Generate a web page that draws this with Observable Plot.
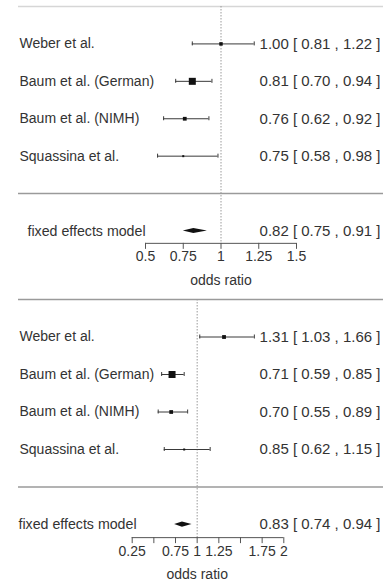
<!DOCTYPE html>
<html>
<head>
<meta charset="utf-8">
<script src="https://cdn.jsdelivr.net/npm/d3@7"></script>
<script src="https://cdn.jsdelivr.net/npm/@observablehq/plot@0.6"></script>
<style>
  html, body { margin: 0; padding: 0; background: #fff; }
  #chart svg { display: block; }
</style>
</head>
<body>
<div id="chart"></div>
<script>
// ---- data ----
const studies = ["Weber et al.", "Baum et al. (German)", "Baum et al. (NIMH)", "Squassina et al."];

const est1 = [1.00, 0.81, 0.76, 0.75];
const lb1  = [0.81, 0.70, 0.62, 0.58];
const ub1  = [1.22, 0.94, 0.92, 0.98];

const est2 = [1.31, 0.71, 0.70, 0.85];
const lb2  = [1.03, 0.59, 0.55, 0.62];
const ub2  = [1.66, 0.85, 0.89, 1.15];

const fixedLabel = "fixed effects model";
const fixedEst = [0.82, 0.83];
const fixedLb  = [0.75, 0.74];
const fixedUb  = [0.91, 0.94];

const ticks1 = [0.5, 0.75, 1, 1.25, 1.5];
const tickLabels1 = ["0.5", "0.75", "1", "1.25", "1.5"];
const ticks2 = [0.25, 0.5, 0.75, 1, 1.25, 1.5, 1.75, 2];
const tickLabels2 = ["0.25", "", "0.75", "1", "1.25", "", "1.75", "2"];
const xLabel = "odds ratio";

// ---- drawing ----
const FONT = "Liberation Sans, Arial, Helvetica, sans-serif";
const fmt = d3.format(".2f");

function panel(p) {
  const k = studies.length;
  const data = studies.map((name, i) => {
    const se = (Math.log(p.ub[i]) - Math.log(p.lb[i])) / 3.92;
    return {name, row: k - i, est: p.est[i], lb: p.lb[i], ub: p.ub[i], w: 1 / (se * se)};
  });
  const wMin = d3.min(data, d => d.w), wMax = d3.max(data, d => d.w);
  data.forEach(d => {
    const side = 2 + 5 * (d.w - wMin) / (wMax - wMin);
    d.r = side / Math.sqrt(Math.PI);
  });
  const fRow = -1;
  const fixed = {est: p.fEst, lb: p.fLb, ub: p.fUb, row: fRow};
  const h = 0.07;
  const diamond = [
    {x: fixed.lb, y1: fRow, y2: fRow},
    {x: fixed.est, y1: fRow - h, y2: fRow + h},
    {x: fixed.ub, y1: fRow, y2: fRow}
  ];
  const annot = [...data, fixed].map(d => ({row: d.row, text: `${fmt(d.est)} [ ${fmt(d.lb)} , ${fmt(d.ub)} ]`}));
  const ends = data.flatMap(d => [{x: d.lb, row: d.row}, {x: d.ub, row: d.row}]);
  const ax = p.axisRow;
  const tickData = p.ticks.map((t, i) => ({x: t, label: p.tickLabels[i]}));

  return Plot.plot({
    width: 383,
    height: p.height,
    marginLeft: 18, marginRight: 0, marginTop: 0, marginBottom: 0,
    style: {fontFamily: FONT, fontSize: "14px", background: "#fff", color: "#333"},
    x: {type: "linear", domain: p.xDomain, range: p.xRange, axis: null},
    y: {type: "linear", domain: [k + 1, -1], range: p.yRange, axis: null},
    r: {type: "identity"},
    marks: [
      Plot.ruleY([k + 1], {stroke: p.topColor, strokeWidth: 1.5}),
      Plot.ruleY([0], {stroke: "#9a9a9a", strokeWidth: 1.5}),
      Plot.ruleX([1], {y1: k + 1, y2: ax, stroke: "#9a9a9a", strokeWidth: 1, strokeDasharray: "1.5,1.5"}),
      Plot.ruleY(data, {y: "row", x1: "lb", x2: "ub", stroke: "#3a3a3a", strokeWidth: 1}),
      Plot.ruleX(ends, {x: "x", y1: "row", y2: "row", insetTop: -2, insetBottom: -2, stroke: "#3a3a3a", strokeWidth: 1}),
      Plot.dot(data, {x: "est", y: "row", r: "r", symbol: "square", fill: "#111", stroke: null}),
      Plot.areaY(diamond, {x: "x", y1: "y1", y2: "y2", fill: "#111", curve: "linear"}),
      Plot.text(data, {y: "row", text: "name", frameAnchor: "left", textAnchor: "start", dx: 1, fontSize: 14, fill: "#333"}),
      Plot.text([fixed], {y: "row", text: () => fixedLabel, frameAnchor: "left", textAnchor: "start", dx: p.fixedDx, fontSize: 14.2, fill: "#333"}),
      Plot.text(annot, {y: "row", text: "text", frameAnchor: "right", textAnchor: "end", dx: -3, fontSize: 15, fill: "#333"}),
      Plot.ruleY([{y: ax, x1: p.ticks[0], x2: p.ticks[p.ticks.length - 1]}], {y: "y", x1: "x1", x2: "x2", stroke: "#555", strokeWidth: 1}),
      Plot.ruleX(tickData, {x: "x", y1: () => ax, y2: () => ax, insetBottom: -6, stroke: "#555", strokeWidth: 1}),
      Plot.text(tickData, {x: "x", y: () => ax, text: "label", dy: p.tickDy, fontSize: 14, fill: "#333"}),
      Plot.text([{x: 1, y: ax}], {x: "x", y: "y", text: () => xLabel, dy: p.labelDy, fontSize: 14, fill: "#333"})
    ]
  });
}

const chart = document.getElementById("chart");
chart.append(panel({
  est: est1, lb: lb1, ub: ub1,
  fEst: fixedEst[0], fLb: fixedLb[0], fUb: fixedUb[0],
  ticks: ticks1, tickLabels: tickLabels1,
  xDomain: [0.5, 1.5], xRange: [145, 296],
  yRange: [6, 230.5], height: 292, axisRow: -1.33,
  topColor: "#d6d6d6", fixedDx: 9, tickDy: 13, labelDy: 37
}));
chart.append(panel({
  est: est2, lb: lb2, ub: ub2,
  fEst: fixedEst[1], fLb: fixedLb[1], fUb: fixedUb[1],
  ticks: ticks2, tickLabels: tickLabels2,
  xDomain: [0.25, 2], xRange: [131.7, 283.3],
  yRange: [7, 232], height: 291, axisRow: -1.35,
  topColor: "#9a9a9a", fixedDx: 0, tickDy: 14, labelDy: 37
}));
</script>
</body>
</html>
